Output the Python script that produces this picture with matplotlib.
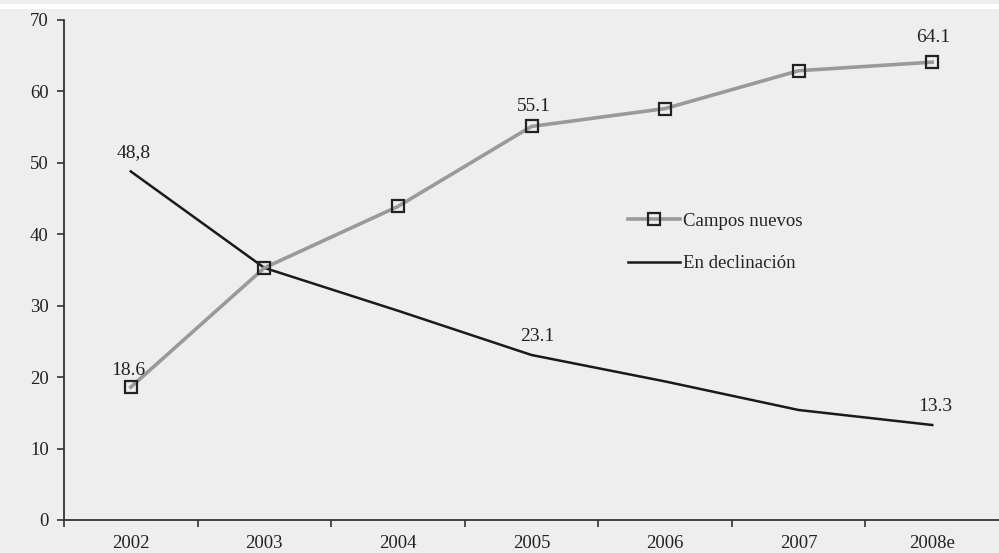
import matplotlib
matplotlib.use("Agg")
import matplotlib.pyplot as plt
from matplotlib.patches import Rectangle

years = ["2002", "2003", "2004", "2005", "2006", "2007", "2008e"]
campos_nuevos = [18.6, 35.3, 43.9, 55.1, 57.6, 62.9, 64.1]
en_declinacion = [48.8, 35.3, 29.3, 23.1, 19.4, 15.4, 13.3]

# value labels: index -> (text, dx, dy) with offsets in points
nuevos_labels = {0: ("18.6", -2, 12), 3: ("55.1", 2, 14), 6: ("64.1", 1, 17.5)}
declin_labels = {0: ("48,8", 2, 13.5), 3: ("23.1", 4, 13), 6: ("13.3", 2, 13.5)}

plt.rcParams["font.family"] = ["Liberation Serif", "DejaVu Serif"]
BG = "#eeeeee"
TXT = "#222222"

fig = plt.figure(figsize=(9.99, 5.53), dpi=100, facecolor=BG)
fig.patches.append(Rectangle((0, 1 - 9 / 553), 1, 5 / 553, transform=fig.transFigure,
                             facecolor="white", edgecolor="none", zorder=0))
ax = fig.add_axes([64 / 999, 1 - 520 / 553, 1 - 64 / 999, 500 / 553])
ax.set_facecolor(BG)

x = list(range(len(years)))
ax.plot(x, en_declinacion, color="#1a1a1a", lw=1.8, label="En declinación", zorder=2)
ax.plot(x, campos_nuevos, color="#9a9a9a", lw=2.6, marker="s", markersize=8.5,
        markerfacecolor="none", markeredgecolor="#222222", markeredgewidth=1.6,
        label="Campos nuevos", zorder=3)

for series, labels in ((campos_nuevos, nuevos_labels), (en_declinacion, declin_labels)):
    for i, (t, dx, dy) in labels.items():
        ax.annotate(t, (x[i], series[i]), xytext=(dx, dy), textcoords="offset points",
                    ha="center", va="center", fontsize=14, color=TXT)

ax.set_xlim(-0.5, len(years) - 0.5)
ax.set_ylim(0, 70)
ax.set_yticks(range(0, 71, 10))
ax.set_xticks([i - 0.5 for i in range(len(years))])
ax.set_xticklabels([])
ax.set_xticks(x, minor=True)
ax.set_xticklabels(years, minor=True)
ax.tick_params(axis="x", which="major", length=5, width=1.2, color="#333333", direction="out")
ax.tick_params(axis="x", which="minor", length=0, pad=11, labelsize=13.5, labelcolor=TXT)
ax.tick_params(axis="y", length=5, width=1.2, color="#333333", pad=6, labelsize=13.5, labelcolor=TXT)

for s in ("top", "right"):
    ax.spines[s].set_visible(False)
for s in ("left", "bottom"):
    ax.spines[s].set_color("#333333")
    ax.spines[s].set_linewidth(1.3)

handles, labels = ax.get_legend_handles_labels()
ax.legend(handles[::-1], labels[::-1], loc="upper left", bbox_to_anchor=(0.603, 0.615),
          frameon=False, fontsize=13.5, handlelength=2.8, handletextpad=0.12,
          labelspacing=1.35, borderpad=0, borderaxespad=0, labelcolor=TXT)

fig.savefig("out.png", dpi=100, facecolor=BG)
